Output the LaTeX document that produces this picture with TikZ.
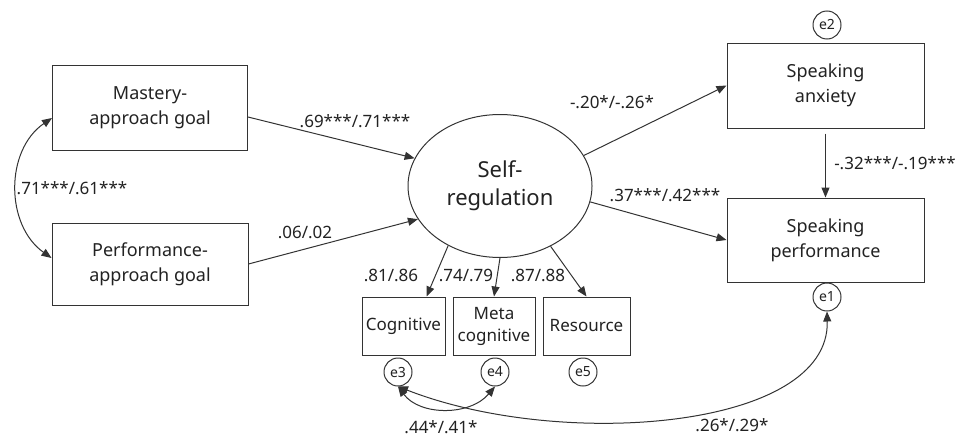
\documentclass[tikz,border=0pt]{standalone}
\usepackage{fontspec}
\setmainfont{Noto Sans}
\usetikzlibrary{arrows.meta,shapes.geometric}
\definecolor{linec}{HTML}{333333}
\definecolor{txt}{HTML}{222222}
\begin{document}
\begin{tikzpicture}[x=1pt,y=-1pt,
  box/.style={draw=linec, line width=1pt, rectangle, inner sep=0pt, align=center, text=txt, font=\fontsize{18}{25}\selectfont},
  sbox/.style={draw=linec, line width=1pt, rectangle, inner sep=0pt, align=center, text=txt, minimum width=83pt, minimum height=58pt, font=\fontsize{17}{22}\selectfont},
  err/.style={draw=linec, line width=1pt, circle, inner sep=0pt, minimum size=28pt, text=txt, font=\fontsize{14}{16}\selectfont},
  lab/.style={text=txt, inner sep=0pt, font=\fontsize{17}{20}\selectfont},
  arr/.style={draw=linec, line width=1pt, -{Triangle[length=10pt,width=8pt]}},
  darr/.style={draw=linec, line width=1pt, {Triangle[length=10pt,width=8pt]}-{Triangle[length=10pt,width=8pt]}}
]
\useasboundingbox (0,0) rectangle (957,439);

% boxes
\node[box, minimum width=195pt, minimum height=85pt] (mast) at (150,108) {Mastery-\\approach goal};
\node[box, minimum width=196pt, minimum height=82pt] (perf) at (150,264) {Performance-\\approach goal};
\node[draw=linec, line width=1pt, ellipse, minimum width=184pt, minimum height=143pt, inner sep=0pt, align=center, text=txt, font=\fontsize{22}{28}\selectfont] (sr) at (500,186) {Self-\\regulation};
\node[sbox] (cog) at (403.5,326) {Cognitive};
\node[sbox, minimum width=82pt] (meta) at (494,326) {Meta\\cognitive};
\node[sbox, minimum width=87pt] (res) at (586.5,326) {Resource};
\node[box, minimum width=197pt, minimum height=85pt] (anx) at (825.5,85.5) {Speaking\\anxiety};
\node[box, minimum width=197pt, minimum height=84pt] (sperf) at (825.5,240) {Speaking\\performance};

% error terms
\node[err] (e2) at (827,25) {e2};
\node[err] (e1) at (827,297) {e1};
\node[err] (e3) at (398,372) {e3};
\node[err] (e4) at (495,372) {e4};
\node[err] (e5) at (583,372) {e5};

% paths
\draw[arr] ([yshift=-9pt]mast.east) -- (sr.162);
\draw[arr] (perf.east) -- (sr.202);
\draw[arr] (sr.20) -- (anx.west);
\draw[arr] (sr.350) -- (sperf.west);
\draw[arr] ([yshift=-5pt]anx.south) -- (sperf.north);
\draw[arr] (sr.229) -- ([xshift=23pt]cog.north);
\draw[arr] (sr.270) -- (meta.north);
\draw[arr] (sr.310) -- (res.north);

% covariances
\draw[darr] ([yshift=-10pt]mast.west) .. controls (5,150) and (5,225) .. ([yshift=6pt]perf.west);
\draw[darr] (e3.south) .. controls (420,416) and (470,416) .. (e4.south);
\draw[darr] (e3.south) .. controls (560,450) and (830,430) .. (e1.south);

% labels
\node[lab] (l1) at (355,121) {.69***/.71***};
\node[lab] (l2) at (305,232) {.06/.02};
\node[lab] (l3) at (72,188) {.71***/.61***};
\node[lab] (l4) at (612,102) {-.20*/-.26*};
\node[lab] (l5) at (665,195) {.37***/.42***};
\node[lab] (l6) at (895,163) {-.32***/-.19***};
\node[lab] (l7) at (391,275) {.81/.86};
\node[lab] (l8) at (466,275) {.74/.79};
\node[lab] (l9) at (538,275) {.87/.88};
\node[lab] (l10) at (441,427) {.44*/.41*};
\node[lab] (l11) at (732,425) {.26*/.29*};
\end{tikzpicture}
\end{document}
